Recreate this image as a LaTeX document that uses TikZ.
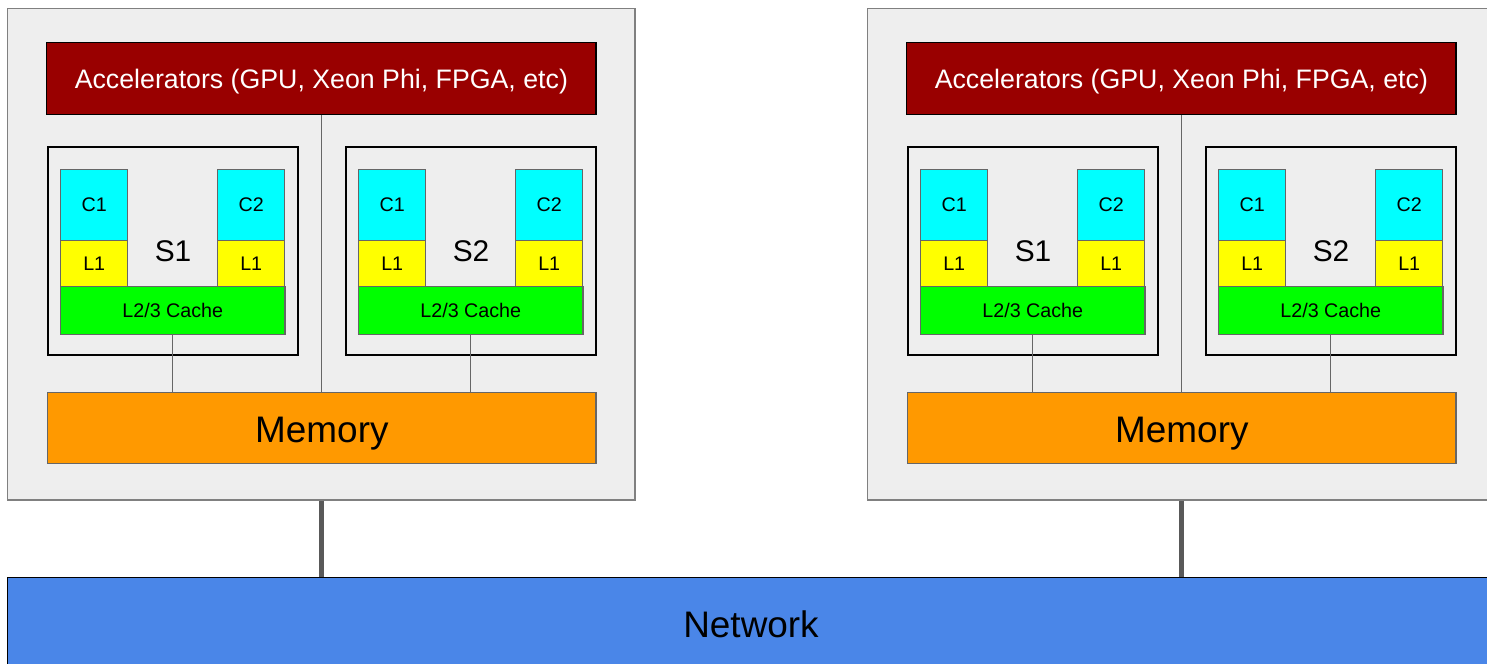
\documentclass[tikz,border=0pt]{standalone}
\usepackage{fontspec}
\setmainfont{Liberation Sans}
\usetikzlibrary{positioning}

\definecolor{hostgray}{HTML}{EEEEEE}
\definecolor{accred}{HTML}{990000}
\definecolor{memorange}{HTML}{FF9900}
\definecolor{netblue}{HTML}{4A86E8}
\definecolor{corecyan}{HTML}{00FFFF}
\definecolor{loneyellow}{HTML}{FFFF00}
\definecolor{coregreen}{HTML}{00FF00}
\definecolor{wiregray}{HTML}{595959}

\tikzset{
  box/.style={anchor=north west, inner sep=0pt, line width=0.4pt},
  host/.style={box, draw=gray, fill=hostgray, minimum width=6.27cm, minimum height=4.91cm},
  accel/.style={box, draw=black, fill=accred, text=white, minimum width=5.49cm, minimum height=0.72cm,
    text height=7.3pt, text depth=1.6pt, font=\fontsize{7.6pt}{9pt}\selectfont},
  socket/.style={box, draw=black, line width=0.55pt, minimum width=2.5cm, minimum height=2.08cm,
    font=\fontsize{8.5pt}{10pt}\selectfont},
  core/.style={box, draw=gray!80!black, fill=corecyan, minimum width=0.67cm, minimum height=0.71cm,
    font=\fontsize{5.6pt}{7pt}\selectfont},
  lone/.style={core, fill=loneyellow, minimum height=0.46cm},
  cache/.style={core, fill=coregreen, minimum width=2.24cm, minimum height=0.48cm},
  memory/.style={box, draw=gray!80!black, fill=memorange, minimum width=5.48cm, minimum height=0.71cm,
    text height=10.4pt, text depth=2.2pt, font=\fontsize{10.5pt}{12pt}\selectfont},
  wire/.style={draw=gray!80!black, line width=0.4pt},
  link/.style={draw=wiregray, line width=1.3pt},
}

\begin{document}
\begin{tikzpicture}[x=0.01cm, y=-0.01cm]
  \useasboundingbox (0,0) rectangle (1487,664);
  \clip (0,0) rectangle (1487,664);

  % network
  \node[box, draw=black, fill=netblue, minimum width=15cm, minimum height=1.2cm] (net) at (7,577) {};
  \node (netlabel) at (751,624) {\fontsize{10.5pt}{12pt}\selectfont Network};

  % two compute nodes
  \foreach \n/\dx in {A/0, B/860} {
    \begin{scope}[xshift=\dx*0.01cm]
      \node[host] (\n-host) at (7,8) {};
      \node[accel] (\n-acc) at (46,42) {Accelerators (GPU, Xeon Phi, FPGA, etc)};
      \node[memory] (\n-mem) at (47,392) {Memory};

      % sockets
      \foreach \s/\sx in {1/47, 2/345} {
        \node[socket] (\n-s\s) at (\sx,146) {S\s};
        \node[core] (\n-s\s-c1) at (\sx+13,169) {C1};
        \node[lone] (\n-s\s-l1) at (\sx+13,240) {L1};
        \node[core] (\n-s\s-c2) at (\sx+170,169) {C2};
        \node[lone] (\n-s\s-l2) at (\sx+170,240) {L1};
        \node[cache] (\n-s\s-cache) at (\sx+13,286) {L2/3 Cache};
        \draw[wire] (\n-s\s-cache.south) -- (\n-s\s-cache.south |- \n-mem.north);
      }

      \draw[wire] (\n-acc.south) -- (\n-acc.south |- \n-mem.north);
      \draw[link] (\n-host.south) -- (\n-host.south |- net.north);
    \end{scope}
  }
\end{tikzpicture}
\end{document}
